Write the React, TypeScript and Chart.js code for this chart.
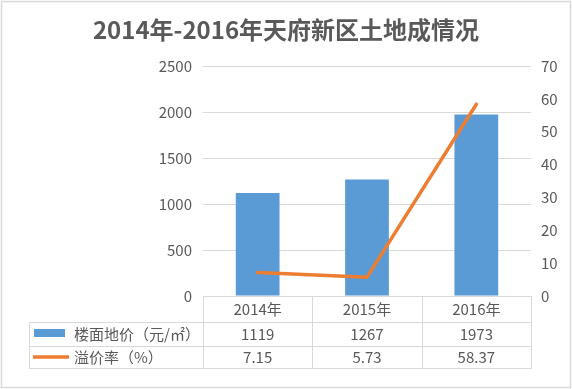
import React, { useEffect, useRef } from "react";
import { Chart, registerables } from "chart.js";

Chart.register(...registerables);

const titleText = "2014年-2016年天府新区土地成情况";
const categories = ["2014年", "2015年", "2016年"];
const barLabel = "楼面地价（元/㎡）";
const lineLabel = "溢价率（%）";
const barValues = [1119, 1267, 1973];
const lineValues = [7.15, 5.73, 58.37];
const barValueText = ["1119", "1267", "1973"];
const lineValueText = ["7.15", "5.73", "58.37"];

const FONT = '"Noto Sans CJK SC", "Noto Sans", sans-serif';
const TEXT = "#595959";
const GRID = "#d9d9d9";
const BLUE = "#5B9BD5";
const ORANGE = "#ED7D31";

const tablePlugin = {
  id: "dataTable",
  afterDraw(chart: any) {
    const ctx = chart.ctx;
    const x = chart.scales.x;
    const area = chart.chartArea;
    const top = area.bottom;
    const r1 = top + 26;
    const r2 = r1 + 24;
    const r3 = r2 + 22;
    const tableLeft = 29;
    const n = categories.length;
    const half = (x.getPixelForValue(1) - x.getPixelForValue(0)) / 2;
    const bounds: number[] = [];
    for (let i = 0; i < n; i++) bounds.push(x.getPixelForValue(i) - half);
    bounds.push(x.getPixelForValue(n - 1) + half);

    ctx.save();
    ctx.strokeStyle = GRID;
    ctx.lineWidth = 1;
    const hl = (y: number, x0: number, x1: number) => {
      ctx.beginPath();
      ctx.moveTo(x0, Math.round(y) + 0.5);
      ctx.lineTo(x1, Math.round(y) + 0.5);
      ctx.stroke();
    };
    const vl = (xx: number, y0: number, y1: number) => {
      ctx.beginPath();
      ctx.moveTo(Math.round(xx) + 0.5, y0);
      ctx.lineTo(Math.round(xx) + 0.5, y1);
      ctx.stroke();
    };
    hl(top, bounds[0], bounds[n]);
    hl(r1, tableLeft, bounds[n]);
    hl(r2, tableLeft, bounds[n]);
    hl(r3, tableLeft, bounds[n]);
    vl(tableLeft, r1, r3 + 1);
    for (const b of bounds) vl(b, top, r3 + 1);

    // outer border
    ctx.strokeStyle = GRID;
    ctx.lineWidth = 1.5;
    ctx.strokeRect(1.5, 1.5, chart.width - 3, chart.height - 3);

    // legend keys
    ctx.fillStyle = BLUE;
    ctx.fillRect(34, r1 + 7, 31, 8);
    ctx.strokeStyle = ORANGE;
    ctx.lineWidth = 3.5;
    ctx.beginPath();
    ctx.moveTo(33, (r2 + r3) / 2);
    ctx.lineTo(69, (r2 + r3) / 2);
    ctx.stroke();

    ctx.fillStyle = TEXT;
    ctx.textBaseline = "middle";
    ctx.font = `15px ${FONT}`;
    ctx.textAlign = "left";
    ctx.fillText(barLabel, 74, (r1 + r2) / 2);
    ctx.fillText(lineLabel, 74, (r2 + r3) / 2);

    ctx.textAlign = "center";
    for (let i = 0; i < n; i++) {
      const cx = x.getPixelForValue(i);
      ctx.fillText(barValueText[i], cx, (r1 + r2) / 2);
      ctx.fillText(lineValueText[i], cx, (r2 + r3) / 2);
    }
    ctx.restore();
  },
};

export default function App() {
  const ref = useRef<HTMLCanvasElement>(null);
  useEffect(() => {
    document.body.style.margin = "0";
    const chart = new Chart(ref.current!, {
      type: "bar",
      data: {
        labels: categories,
        datasets: [
          {
            type: "line",
            label: lineLabel,
            data: lineValues,
            borderColor: ORANGE,
            backgroundColor: ORANGE,
            borderWidth: 3.5,
            pointRadius: 0,
            tension: 0,
            borderCapStyle: "round",
            borderJoinStyle: "round",
            yAxisID: "y1",
            order: 0,
          } as any,
          {
            type: "bar",
            label: barLabel,
            data: barValues,
            backgroundColor: BLUE,
            categoryPercentage: 1,
            barPercentage: 0.4,
            yAxisID: "y",
            order: 1,
          },
        ],
      },
      options: {
        responsive: false,
        animation: false,
        layout: { padding: { top: 15, bottom: 67, left: 0, right: 0 } },
        plugins: {
          legend: { display: false },
          tooltip: { enabled: false },
          title: {
            display: true,
            text: titleText,
            color: TEXT,
            font: { family: FONT, size: 24, weight: "bold", lineHeight: 1.2 },
            padding: { top: 0, bottom: 22.2 },
          },
        },
        scales: {
          x: {
            offset: true,
            grid: { display: false, drawTicks: false },
            border: { display: false },
            ticks: { color: TEXT, font: { family: FONT, size: 15 }, padding: 4 },
            afterFit: (s: any) => {
              s.height = 26;
            },
          },
          y: {
            position: "left",
            min: 0,
            max: 2500,
            ticks: {
              stepSize: 500,
              color: TEXT,
              font: { family: FONT, size: 15 },
              padding: 11,
              callback: (v: any) => String(v),
            },
            grid: { color: GRID, drawTicks: false },
            border: { display: false },
            afterFit: (s: any) => {
              s.width = 203;
            },
          },
          y1: {
            position: "right",
            min: 0,
            max: 70,
            ticks: {
              stepSize: 10,
              color: TEXT,
              font: { family: FONT, size: 15 },
              padding: 10,
              callback: (v: any) => String(v),
            },
            grid: { display: false, drawTicks: false },
            border: { display: false },
            afterFit: (s: any) => {
              s.width = 41;
            },
          },
        },
      } as any,
      plugins: [tablePlugin],
    });
    return () => chart.destroy();
  }, []);
  return (
    <div style={{ position: "absolute", left: 0, top: 0, width: 572, height: 389 }}>
      <canvas ref={ref} width={572} height={389} />
    </div>
  );
}
